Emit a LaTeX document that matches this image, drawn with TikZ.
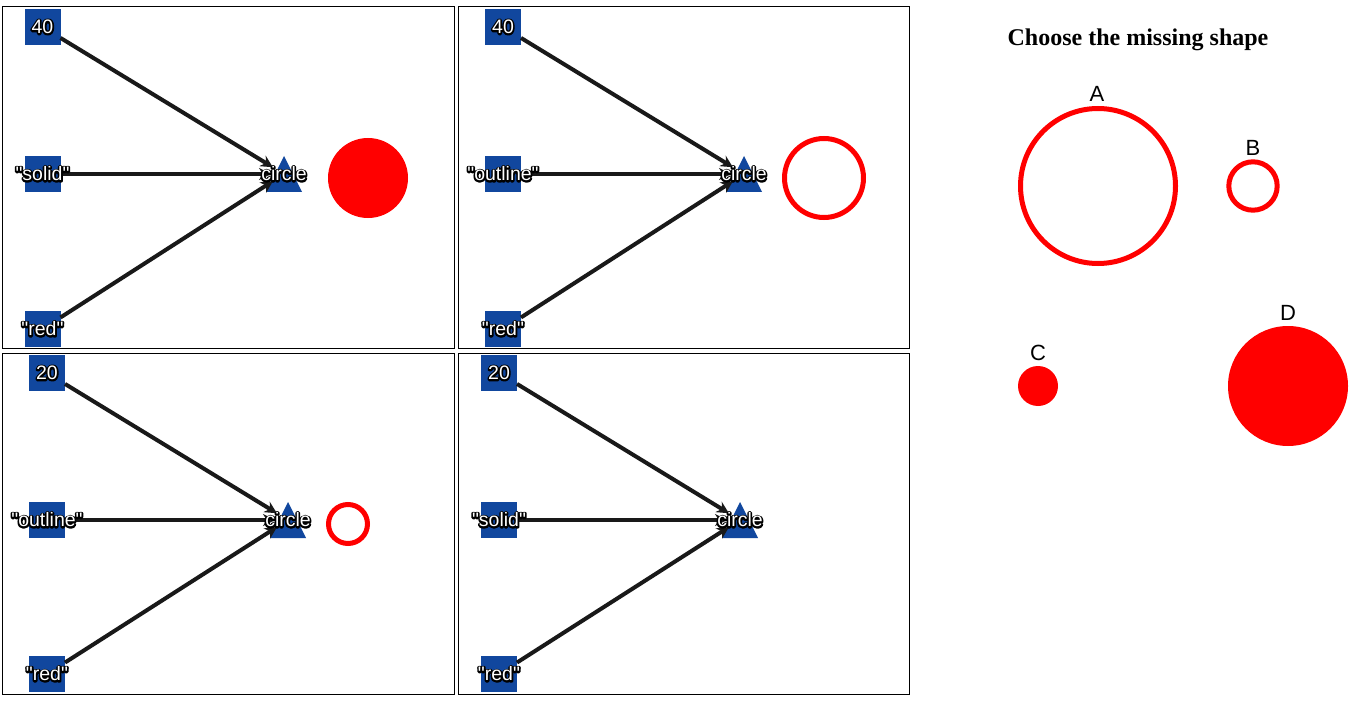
\documentclass[tikz,border=0pt]{standalone}
\usepackage{fontspec}
\setmainfont{Liberation Serif}
\newfontfamily\arialfont{Liberation Sans}
\usetikzlibrary{arrows.meta}
\definecolor{nodeblue}{RGB}{17,71,158}
\definecolor{shapered}{RGB}{255,0,0}
\definecolor{linedark}{RGB}{25,25,25}
% white text with a black halo: a stroked copy underneath, the filled text on top
\newcommand{\halotext}[1]{%
  \makebox[0pt][l]{\special{pdf:literal direct 1 Tr 3.2 w 1 j 0 0 0 RG}#1\special{pdf:literal direct 0 Tr}}#1}
\tikzset{
  panel/.style={draw=black, line width=1pt},
  vbox/.style={fill=nodeblue, minimum width=36pt, minimum height=36pt, inner sep=0pt, outer sep=0pt},
  lbl/.style={font=\arialfont\fontsize{19.5}{19.5}\selectfont, text=white, inner sep=0pt},
  arr/.style={draw=linedark, line width=4pt, -{Stealth[length=12pt,width=12pt]}, shorten >=13pt},
  tri/.style={fill=nodeblue},
  ring/.style={draw=shapered, line width=5pt},
  disc/.style={fill=shapered},
  opt/.style={font=\arialfont\fontsize{22}{22}\selectfont, inner sep=0pt},
  title/.style={font=\bfseries\fontsize{24}{28}\selectfont, inner sep=0pt}
}
% #1 prefix, #2 box x, #3 triangle x, #4 #5 #6 box y's, #7 top label, #8 mid label
\newcommand{\drawpanel}[8]{%
  \fill[tri] ({#3-18},{#5+18}) -- ({#3},{#5-18}) -- ({#3+18},{#5+18}) -- cycle;
  \node[vbox] (#1a) at (#2,#4) {};
  \node[vbox] (#1b) at (#2,#5) {};
  \node[vbox] (#1c) at (#2,#6) {};
  \coordinate (#1t) at (#3,#5);
  \draw[arr] (#1a) -- (#1t);
  \draw[arr] (#1b) -- (#1t);
  \draw[arr] (#1c) -- (#1t);
  \node[lbl] (#1la) at (#1a) {\halotext{#7}};
  \node[lbl] (#1lb) at (#1b) {\halotext{#8}};
  \node[lbl] (#1lc) at (#1c) {\halotext{"red"}};
  \node[lbl] (#1lt) at (#1t) {\halotext{circle}};
}
\begin{document}
\begin{tikzpicture}[x=1pt,y=-1pt]
\useasboundingbox[fill=white] (0,0) rectangle (1358,706);
% panels
\draw[panel] (2,7) rectangle (454,348);
\draw[panel] (458,7) rectangle (909,348);
\draw[panel] (2,353) rectangle (454,694);
\draw[panel] (458,353) rectangle (909,694);
\drawpanel{p}{42.5}{284}{27}{174}{329}{40}{"solid"}
\drawpanel{q}{503}{744}{27}{174}{329}{40}{"outline"}
\drawpanel{r}{47}{288}{373}{520}{674}{20}{"outline"}
\drawpanel{s}{499}{740}{373}{520}{674}{20}{"solid"}
% result shapes
\fill[disc] (368,178) circle[radius=40];
\draw[ring] (824,178) circle[radius=39.5];
\draw[ring] (348,524) circle[radius=19.5];
% options
\node[title] (ttl) at (1138,40) {Choose the missing shape};
\draw[ring] (1098,186) circle[radius=77.5];
\draw[ring] (1253,186) circle[radius=24.2];
\fill[disc] (1038,386) circle[radius=20];
\fill[disc] (1288,386) circle[radius=60];
\node[opt] (oa) at (1097,94) {A};
\node[opt] (ob) at (1253,148) {B};
\node[opt] (oc) at (1038,353) {C};
\node[opt] (od) at (1288,313) {D};
\end{tikzpicture}
\end{document}
